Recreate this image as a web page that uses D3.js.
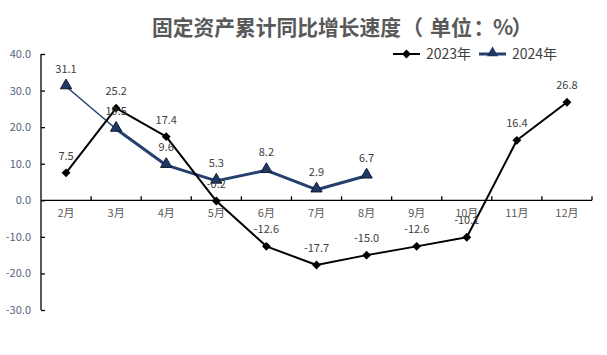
<!DOCTYPE html>
<html><head><meta charset="utf-8">
<script src="https://cdn.jsdelivr.net/npm/d3@7/dist/d3.min.js"></script>
<style>body{margin:0;background:#fff}svg{display:block}</style>
</head><body>
<svg id="c" width="607" height="355"></svg>
<script>
const categories = ["2月","3月","4月","5月","6月","7月","8月","9月","10月","11月","12月"];
const values2023 = [7.5, 25.2, 17.4, -0.2, -12.6, -17.7, -15.0, -12.6, -10.1, 16.4, 26.8];
const values2024 = [31.1, 19.5, 9.6, 5.3, 8.2, 2.9, 6.7];
const yTicks = [40, 30, 20, 10, 0, -10, -20, -30];
const seriesNames = ["2023年", "2024年"];
const titleMain = "固定资产累计同比增长速度";
const titleUnit = ["（", "单位", "：", "%", "）"];

const svg = d3.select("#c");
const font = "'Noto Sans CJK SC','Microsoft YaHei',sans-serif";
const c23 = "#000000", c24 = "#25406f";
const fmt = v => d3.format(".1f")(v).replace("\u2212", "-");

const x = d3.scaleBand().domain(categories).range([41, 592]);
const y = d3.scaleLinear().domain([-30, 40]).range([310, 54]);
const cx = d => x(d) + x.bandwidth() / 2;

// title
const tAttrs = sel => sel.attr("y", 35).attr("font-family", font).attr("font-weight", "bold")
  .attr("font-size", 21).attr("fill", "#595959");
svg.append("text").call(tAttrs).attr("x", 152).attr("textLength", 249)
  .attr("lengthAdjust", "spacingAndGlyphs").text(titleMain);
const unitX = [402, 430, 484, 503, 522];
const unitAnchor = ["start", "start", "middle", "middle", "middle"];
titleUnit.forEach((s, i) => {
  svg.append("text").call(tAttrs).attr("x", unitX[i]).attr("text-anchor", unitAnchor[i]).text(s);
});

// y axis
const yAxis = svg.append("g").attr("transform", "translate(41,0)")
  .call(d3.axisRight(y).tickValues(yTicks).tickSize(4).tickFormat(fmt));
yAxis.select(".domain").attr("stroke", "#000").attr("stroke-width", 1.3).attr("d", `M0,${y(40)}V${y(-30)}`);
yAxis.selectAll(".tick line").attr("stroke", "#000").attr("stroke-width", 1.3);
yAxis.selectAll(".tick text").attr("x", -10).attr("text-anchor", "end")
  .attr("font-family", font).attr("font-size", 11).attr("fill", "#56647e");

// x axis at 0
const xAxis = svg.append("g").attr("transform", `translate(0,${y(0)})`)
  .call(d3.axisBottom(x).tickSize(0));
xAxis.select(".domain").attr("stroke", "#000").attr("stroke-width", 1.3).attr("d", "M41,0H592");
xAxis.selectAll(".tick text").attr("y", 9).attr("dy", "0.71em")
  .attr("font-family", font).attr("font-size", 11).attr("fill", "#595959");
const bounds = categories.map(c => x(c)).concat([x.range()[1]]).slice(1);
xAxis.selectAll(".bt").data(bounds).enter().append("line")
  .attr("x1", d => d).attr("x2", d => d).attr("y1", -4).attr("y2", 0)
  .attr("stroke", "#000").attr("stroke-width", 1.3);

const line = d3.line().x(d => cx(d.c)).y(d => y(d.v));
const d23 = values2023.map((v, i) => ({c: categories[i], v}));
const d24 = values2024.map((v, i) => ({c: categories[i], v}));

// 2024 line: thin first segment, thick rest
svg.append("path").attr("d", line(d24.slice(0, 2))).attr("fill", "none")
  .attr("stroke", c24).attr("stroke-width", 1.5);
svg.append("path").attr("d", line(d24.slice(1))).attr("fill", "none")
  .attr("stroke", c24).attr("stroke-width", 3).attr("stroke-linejoin", "round");

svg.append("path").attr("d", line(d23)).attr("fill", "none")
  .attr("stroke", c23).attr("stroke-width", 2).attr("stroke-linejoin", "round");

const diamond = d3.symbol().type(d3.symbolDiamond2).size(50);
const tri = d3.symbol().type(d3.symbolTriangle).size(55);

svg.selectAll(".m24").data(d24).enter().append("path")
  .attr("d", tri).attr("transform", d => `translate(${cx(d.c)},${y(d.v) - 1})`)
  .attr("fill", "#1f3864").attr("stroke", "#0d1a33").attr("stroke-width", 1);
svg.selectAll(".m23").data(d23).enter().append("path")
  .attr("d", diamond).attr("transform", d => `translate(${cx(d.c)},${y(d.v)})`)
  .attr("fill", "#000");

// labels
const lab = (data, off) => svg.selectAll(null).data(data).enter().append("text")
  .attr("x", d => cx(d.c)).attr("y", d => y(d.v) - off).attr("text-anchor", "middle")
  .attr("font-family", font).attr("font-size", 11).attr("fill", "#404040")
  .text(d => fmt(d.v));
lab(d23, 13);
lab(d24, 14);

// legend
const leg = [{n: seriesNames[0], x0: 393, col: c23, sym: diamond, w: 2},
             {n: seriesNames[1], x0: 479, col: c24, sym: tri, w: 3}];
leg.forEach((l, i) => {
  const g = svg.append("g");
  g.append("line").attr("x1", l.x0).attr("x2", l.x0 + 27).attr("y1", 54).attr("y2", 54)
    .attr("stroke", l.col).attr("stroke-width", l.w);
  g.append("path").attr("d", l.sym).attr("transform", `translate(${l.x0 + 13.5},${i ? 53 : 54})`)
    .attr("fill", i ? "#1f3864" : "#000");
  g.append("text").attr("x", l.x0 + 33).attr("y", 59).attr("font-family", font)
    .attr("font-size", 14).attr("fill", "#404040").text(l.n);
});
</script>
</body></html>
